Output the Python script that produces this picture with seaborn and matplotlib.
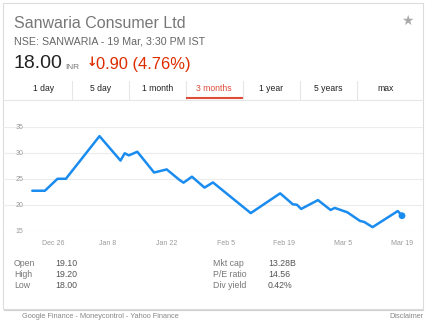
import matplotlib
matplotlib.use("Agg")
import matplotlib.pyplot as plt
from matplotlib.patches import Rectangle
import seaborn as sns
import pandas as pd

# ---- data ----
dates = ["2017-12-21", "2017-12-24", "2017-12-27", "2017-12-29", "2018-01-06",
         "2018-01-11", "2018-01-12", "2018-01-13", "2018-01-15", "2018-01-19",
         "2018-01-22", "2018-01-25", "2018-01-26", "2018-01-28", "2018-01-31",
         "2018-02-02", "2018-02-11", "2018-02-18", "2018-02-21", "2018-02-22",
         "2018-02-23", "2018-02-27", "2018-03-02", "2018-03-03", "2018-03-06",
         "2018-03-09", "2018-03-10", "2018-03-12", "2018-03-18", "2018-03-19"]
prices = [22.8, 22.8, 25.1, 25.1, 33.3, 28.6, 30.0, 29.6, 30.3, 26.3,
          26.9, 24.9, 24.35, 25.5, 23.4, 24.4, 18.5, 22.3, 20.2, 20.1,
          19.3, 21.0, 19.1, 19.5, 18.65, 17.0, 16.8, 15.8, 18.9, 18.0]
tick_dates = ["2017-12-26", "2018-01-08", "2018-01-22", "2018-02-05",
              "2018-02-19", "2018-03-05", "2018-03-19"]
tick_labels = ["Dec 26", "Jan 8", "Jan 22", "Feb 5", "Feb 19", "Mar 5", "Mar 19"]
y_ticks = [15, 20, 25, 30, 35]
tabs = ["1 day", "5 day", "1 month", "3 months", "1 year", "5 years", "max"]
active_tab = "3 months"
stats_left_labels = ["Open", "High", "Low"]
stats_left_values = ["19.10", "19.20", "18.00"]
stats_right_labels = ["Mkt cap", "P/E ratio", "Div yield"]
stats_right_values = ["13.28B", "14.56", "0.42%"]

title = "Sanwaria Consumer Ltd"
subtitle = "NSE: SANWARIA - 19 Mar, 3:30 PM IST"
price = "18.00"
currency = "INR"
change = "0.90 (4.76%)"

df = pd.DataFrame({"date": pd.to_datetime(dates), "price": prices})

sns.set_theme(style="white")
plt.rcParams["font.family"] = ["Liberation Sans", "DejaVu Sans"]

W, H = 426, 325
fig = plt.figure(figsize=(W / 100, H / 100), dpi=100)
fig.patch.set_facecolor("white")


def fx(x):
    return x / W


def fy(y):
    return 1 - y / H


# card
card = Rectangle((fx(3), fy(309)), fx(420), 306 / H, transform=fig.transFigure,
                 facecolor="white", edgecolor="#dcdcdc", linewidth=0.8, zorder=-10)
fig.add_artist(card)
fig.add_artist(plt.Line2D([fx(3.5), fx(423)], [fy(309.8), fy(309.8)],
                          transform=fig.transFigure, color="#cfcfcf", lw=0.8, zorder=-5))

# header
fig.text(fx(14), fy(24), title, fontsize=11.5, color="#777777", va="center", ha="left")
fig.text(fx(14), fy(41), subtitle, fontsize=7.7, color="#666666", va="center", ha="left")
fig.text(fx(13.5), fy(64), price, fontsize=14, color="#222222", va="center", ha="left")
fig.text(fx(65), fy(67.5), currency, fontsize=6, color="#777777", va="center", ha="left")
fig.text(fx(86.5), fy(62), "\u2193", fontsize=9, color="#dd2c00", va="center", ha="left",
         fontweight="bold", family=["DejaVu Sans"])
fig.text(fx(96), fy(64), change, fontsize=11.9, color="#dd2c00", va="center", ha="left")
fig.text(fx(407), fy(21), "\u2605", fontsize=10, color="#aaaaaa", va="center", ha="center",
         family=["DejaVu Sans"])

# tabs
tab_w = 57.0
tab_x0 = 14.7
for i, t in enumerate(tabs):
    cx = tab_x0 + tab_w * (i + 0.5)
    active = t == active_tab
    fig.text(fx(cx), fy(88.5), t, fontsize=6.2, ha="center", va="center",
             color="#dd4b39" if active else "#222222")
    if i > 0:
        xs = tab_x0 + tab_w * i
        fig.add_artist(plt.Line2D([fx(xs), fx(xs)], [fy(81), fy(99)],
                                  transform=fig.transFigure, color="#e6e6e6", lw=0.8))
    if active:
        fig.add_artist(plt.Line2D([fx(tab_x0 + tab_w * i), fx(tab_x0 + tab_w * (i + 1))],
                                  [fy(98.3), fy(98.3)], transform=fig.transFigure,
                                  color="#dd4b39", lw=1.5, solid_capstyle="butt"))
fig.add_artist(plt.Line2D([fx(3), fx(423)], [fy(99.5), fy(99.5)],
                          transform=fig.transFigure, color="#e6e6e6", lw=0.8))

# chart
ax = fig.add_axes([fx(3), fy(231.3), fx(420), 104 / H])
ax.set_zorder(5)
ax.set_facecolor("none")
sns.lineplot(data=df, x="date", y="price", ax=ax, color="#1a8cf0", linewidth=1.8,
             clip_on=False)
last = df.iloc[[-1]]
sns.scatterplot(data=last, x="date", y="price", ax=ax, color="#1a8cf0", s=24,
                edgecolor="none", zorder=5, clip_on=False)

x0 = pd.Timestamp(tick_dates[0])
x1 = pd.Timestamp(tick_dates[-1])
ax.set_xlim(x0 - pd.Timedelta(days=11.97), x1 + pd.Timedelta(days=5.0))
ax.set_ylim(y_ticks[0], y_ticks[-1])
ax.set_xticks(pd.to_datetime(tick_dates))
ax.set_xticklabels(tick_labels)
ax.set_yticks(y_ticks)
ax.set_yticklabels([str(v) for v in y_ticks])
ax.set_xlabel("")
ax.set_ylabel("")
for s in ax.spines.values():
    s.set_visible(False)
ax.yaxis.grid(True, color="#ececec", linewidth=0.8)
ax.xaxis.grid(False)
ax.tick_params(axis="y", length=0, pad=-14.5, labelsize=5, labelcolor="#9a9a9a")
ax.tick_params(axis="x", length=4.5, width=0.7, color="#e0e0e0", direction="out",
               pad=1.5, labelsize=5, labelcolor="#9a9a9a")
for lab in ax.get_yticklabels():
    lab.set_verticalalignment("center")

# stats
rows_y = [263.3, 274.3, 285.7]
for i, y in enumerate(rows_y):
    fig.text(fx(14), fy(y), stats_left_labels[i], fontsize=6.3, color="#777777", va="center")
    fig.text(fx(55), fy(y), stats_left_values[i], fontsize=6.3, color="#555555", va="center")
    fig.text(fx(213), fy(y), stats_right_labels[i], fontsize=6.3, color="#777777", va="center")
    fig.text(fx(268), fy(y), stats_right_values[i], fontsize=6.3, color="#555555", va="center")

# footer
fig.text(fx(22), fy(316.5), "Google Finance - Moneycontrol - Yahoo Finance", fontsize=5.3,
         color="#888888", va="center", ha="left")
fig.text(fx(424), fy(316.5), "Disclaimer", fontsize=5.3, color="#888888", va="center",
         ha="right")

fig.savefig("out.png", dpi=100, facecolor="white")
